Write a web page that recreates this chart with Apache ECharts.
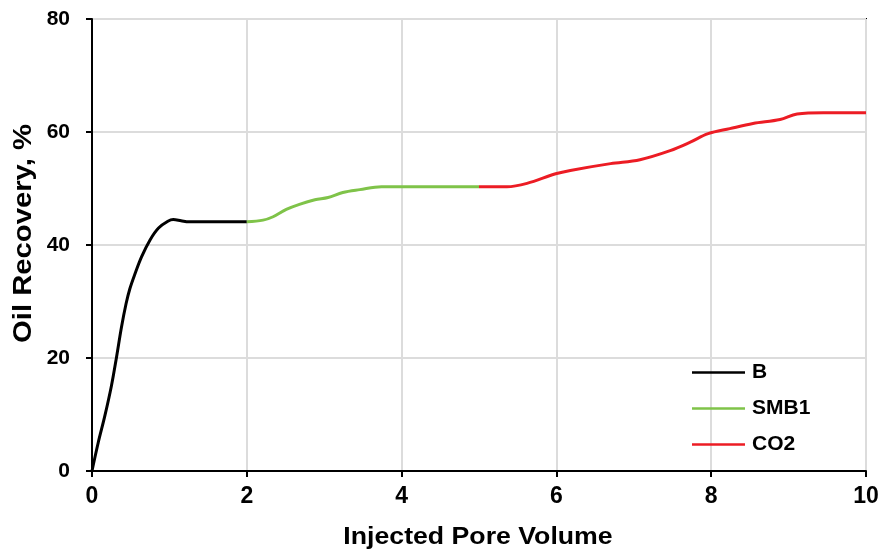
<!DOCTYPE html>
<html>
<head>
<meta charset="utf-8">
<script src="https://cdn.jsdelivr.net/npm/echarts@6/dist/echarts.min.js"></script>
<style>
html,body{margin:0;padding:0;background:#fff;}
#chart{width:879px;height:552px;}
</style>
</head>
<body>
<div id="chart"></div>
<script>
var xTicks = [0, 2, 4, 6, 8, 10];
var yTicks = [0, 20, 40, 60, 80];
var xTitle = 'Injected Pore Volume';
var yTitle = 'Oil Recovery, %';
var seriesNames = ['B', 'SMB1', 'CO2'];
var dataB = [[0,0],[0.08,5],[0.165,9.7],[0.25,15],[0.315,20],[0.38,25.4],[0.44,29.6],[0.49,32.3],[0.55,34.7],[0.64,37.9],[0.75,40.9],[0.86,43],[0.98,44.2],[1.05,44.5],[1.15,44.3],[1.25,44.1],[1.6,44.1],[2.0,44.1]];
var dataSMB1 = [[2.0,44.1],[2.21,44.4],[2.34,45.0],[2.51,46.3],[2.68,47.2],[2.88,48.0],[3.05,48.4],[3.24,49.3],[3.46,49.8],[3.74,50.3],[4.3,50.3],[5.0,50.3]];
var dataCO2 = [[5.0,50.3],[5.36,50.3],[5.62,50.9],[5.99,52.6],[6.18,53.2],[6.7,54.4],[7.08,55.1],[7.47,56.7],[7.73,58.2],[7.96,59.7],[8.24,60.6],[8.54,61.5],[8.89,62.2],[9.11,63.2],[9.45,63.4],[10.0,63.4]];
var colors = ['#000000', '#7fc349', '#ec1c24'];

var chart = echarts.init(document.getElementById('chart'), null, {renderer: 'canvas'});
var boldFont = '"Liberation Sans", Arial, sans-serif';
function mk(name, data, color) {
  return {
    name: name, type: 'line', data: data, smooth: 0.35, symbol: 'none',
    lineStyle: {color: color, width: 3}, itemStyle: {color: color}, z: 3
  };
}
chart.setOption({
  animation: false,
  backgroundColor: '#fff',
  grid: {left: 92, right: 13, top: 19, bottom: 81, show: true, borderColor: '#000', borderWidth: 2,
         backgroundColor: 'transparent', containLabel: false, outerBoundsMode: 'none'},
  legend: {
    data: seriesNames, orient: 'vertical', left: 692, top: 362, icon: 'rect', padding: 0,
    itemWidth: 53, itemHeight: 2.5, itemGap: 15,
    textStyle: {fontFamily: boldFont, fontWeight: 'bold', fontSize: 21, color: '#000', padding: [0,0,0,2]}
  },
  graphic: [
    {type: 'text', x: 478, y: 538, scaleX: 1.16, z: 10,
     style: {text: xTitle, fontFamily: boldFont, fontWeight: 'bold', fontSize: 23, fill: '#000', align: 'center', verticalAlign: 'middle'}},
    {type: 'text', x: 24, y: 233.5, rotation: Math.PI / 2, scaleX: 1.17, z: 10,
     style: {text: yTitle, fontFamily: boldFont, fontWeight: 'bold', fontSize: 25, fill: '#000', align: 'center', verticalAlign: 'middle'}}
  ],
  xAxis: {
    type: 'value', min: xTicks[0], max: xTicks[xTicks.length-1], interval: 2,
    axisLine: {lineStyle: {color: '#000', width: 2}},
    axisTick: {show: true, length: 6, lineStyle: {color: '#000', width: 2}},
    axisLabel: {fontFamily: boldFont, fontWeight: 'bold', fontSize: 23, color: '#000', margin: 14},
    splitLine: {show: true, lineStyle: {color: '#dcdcdc', width: 2}}
  },
  yAxis: {
    type: 'value', min: yTicks[0], max: yTicks[yTicks.length-1], interval: 20,
    axisLine: {lineStyle: {color: '#000', width: 2}},
    axisTick: {show: true, length: 6, lineStyle: {color: '#000', width: 2}},
    axisLabel: {fontFamily: boldFont, fontWeight: 'bold', fontSize: 21, color: '#000', margin: 22},
    splitLine: {show: true, lineStyle: {color: '#dcdcdc', width: 2}}
  },
  series: [mk(seriesNames[0], dataB, colors[0]), mk(seriesNames[1], dataSMB1, colors[1]), mk(seriesNames[2], dataCO2, colors[2])]
});
</script>
</body>
</html>
